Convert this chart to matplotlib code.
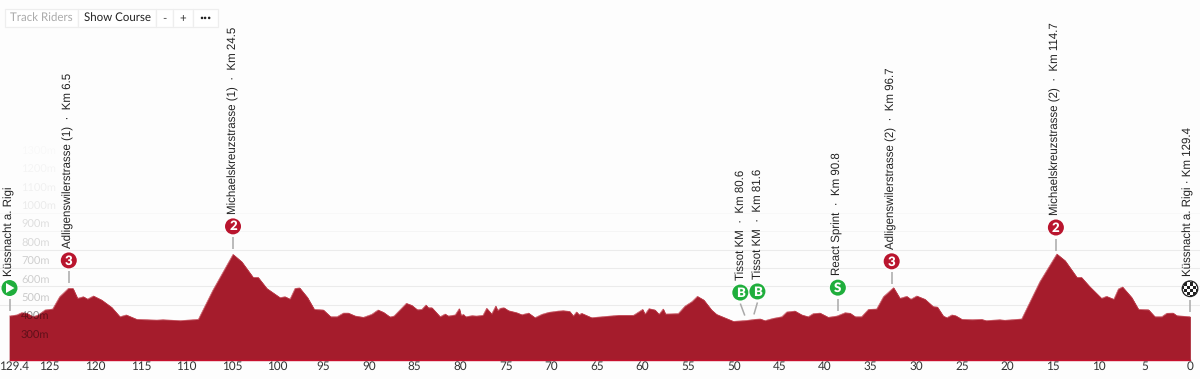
import numpy as np
import matplotlib
matplotlib.use("Agg")
import matplotlib.pyplot as plt
from matplotlib.patches import Circle, Rectangle, Polygon

plt.rcParams['text.hinting'] = 'none'

# km to go / elevation (m)
profile_km = [129.4, 128.6, 128.07, 127.5, 126.8, 126.25, 125.5, 124.67, 123.9, 122.95, 122.45, 121.95, 121.3,
              120.85, 120.2, 119.3, 118.2, 117.3, 116.6, 115.45, 113.25, 112.6, 110.7, 108.7, 107.1, 104.9, 103.95,
              102.7, 102.15, 101.2, 99.75, 99.2, 98.65, 98.1, 97.6, 96.75, 96.0, 95.0, 94.2, 93.5, 92.8, 92.25,
              91.5, 90.6, 89.7, 89.0, 88.4, 87.7, 87.25, 86.6, 85.9, 85.3, 84.7, 84.2, 83.75, 83.5, 83.1, 82.2,
              81.65, 81.3, 80.55, 80.1, 79.9, 79.65, 79.4, 78.7, 78.2, 77.5, 77.1, 76.55, 76.1, 75.9, 75.6, 75.2,
              74.7, 73.8, 73.25, 72.5, 71.8, 71.05, 70.3, 69.25, 68.7, 68.0, 67.6, 67.25, 66.95, 66.7, 65.6, 64.7,
              62.65, 61.0, 60.0, 59.75, 59.3, 58.65, 58.2, 57.75, 57.5, 56.1, 55.35, 54.6, 54.0, 53.3, 52.45, 51.9,
              50.05, 48.6, 47.7, 47.1, 46.6, 45.7, 44.75, 44.2, 43.3, 42.55, 41.85, 41.3, 40.55, 39.65, 38.7, 37.8,
              37.25, 36.7, 36.0, 35.25, 34.35, 33.6, 32.5, 31.8, 31.05, 30.6, 29.95, 29.05, 28.15, 27.7, 27.05,
              26.65, 26.1, 25.7, 25.0, 23.9, 22.85, 22.35, 20.85, 20.3, 18.45, 16.45, 14.6, 13.7, 12.4, 11.9, 11.0,
              9.7, 9.15, 8.35, 7.85, 7.4, 6.4, 5.65, 4.55, 3.85, 3.1, 2.55, 1.85, 1.45, 0.0]
profile_m = [439, 445, 457, 454, 435, 445, 472, 477, 544, 589, 589, 535, 544,
             531, 548, 526, 486, 435, 445, 421, 417, 419, 414, 421, 580, 774, 734,
             649, 649, 589, 539, 544, 531, 589, 592, 540, 475, 472, 435, 435, 455, 455,
             439, 432, 448, 472, 459, 434, 439, 472, 508, 497, 473, 475, 499, 484, 484, 435,
             450, 439, 445, 479, 441, 448, 435, 441, 439, 443, 481, 450, 493, 468, 481, 484,
             468, 457, 446, 455, 430, 448, 459, 466, 468, 464, 439, 461, 445, 454, 430, 434,
             443, 443, 475, 448, 479, 472, 448, 477, 450, 452, 493, 517, 546, 526, 472, 448,
             410, 415, 421, 423, 414, 426, 435, 461, 466, 445, 435, 452, 455, 432, 439, 457,
             454, 435, 435, 475, 477, 544, 593, 535, 546, 530, 548, 530, 490, 488, 439,
             430, 445, 441, 421, 419, 421, 414, 419, 416, 423, 626, 776, 740, 649, 649, 599,
             535, 546, 530, 586, 597, 540, 475, 473, 435, 435, 454, 455, 441, 435]

x_ticks = [125, 120, 115, 110, 105, 100, 95, 90, 85, 80, 75, 70, 65, 60, 55, 50, 45, 40, 35, 30, 25, 20, 15, 10, 5, 0]
y_ticks = [300, 400, 500, 600, 700, 800, 900, 1000, 1100, 1200, 1300]
y_alpha = [.42, .42, .2, .18, .18, .14, .12, .07, .05, .035, .02]
grid_levels = [500, 600, 700, 800, 900, 1000]
grid_alpha = [.07, .07, .07, .07, .03, .02]

total_km = 129.4
marker_names = ["Küssnacht a. Rigi", "Adligenswilerstrasse (1)  ·  Km 6.5", "Michaelskreuzstrasse (1)  ·  Km 24.5",
                "Tissot KM  ·  Km 80.6", "Tissot KM  ·  Km 81.6", "React Sprint  ·  Km 90.8",
                "Adligenswilerstrasse (2)  ·  Km 96.7", "Michaelskreuzstrasse (2)  ·  Km 114.7",
                "Küssnacht a. Rigi · Km 129.4"]
marker_km = [0, 6.5, 24.5, 80.6, 81.6, 90.8, 96.7, 114.7, 129.4]
marker_badge = ["start", "3", "2", "B", "B", "S", "3", "2", "finish"]
marker_shift = [0, 0, 0, -4.5, 3.5, 0, 0, 0, 0]

RED = "#a51c2c"
BADGE_RED = "#b9152e"
GREEN = "#1fae3c"

fig = plt.figure(figsize=(12, 3.79), dpi=100, facecolor="#fdfdfd")
ax = fig.add_axes([0, 0, 1, 1])
ax.axis("off")

# px per km / px per m of the reference
px_km = 1180.5 / total_km
px_m = 0.184
ax.set_xlim(total_km + 9.5 / px_km, -10 / px_km)
ax.set_ylim(200 - 19 / px_m, 200 + 360 / px_m)

for level, a in zip(grid_levels, grid_alpha):
    ax.axhline(level, color="black", alpha=a, lw=0.8, zorder=1)

ax.fill_between(profile_km, 200, profile_m, color=RED, lw=0.5, zorder=2)
ax.plot(profile_km, profile_m, color="#c23a48", lw=0.4, zorder=3)
ax.plot([total_km, 0], [200, 200], color="#c8102e", lw=1, zorder=3)

for km in x_ticks:
    ax.text(km, 200 - 6.5 / px_m, str(km), ha="center", va="center", fontsize=8.5, family="Lato", color="#333333")
ax.text(total_km - 5 / px_km, 200 - 6.5 / px_m, "129.4", ha="center", va="center", fontsize=8.5, family="Lato", color="#333333")

for level, a in zip(y_ticks, y_alpha):
    ax.text(total_km - 11.5 / px_km, level + 1 / px_m, f"{level}m", ha="left", va="bottom", fontsize=8,
            family="Lato", color="black", alpha=a, zorder=4)

# furniture in pixel coordinates, y pointing down
pix = fig.add_axes([0, 0, 1, 1], facecolor="none")
pix.axis("off")
pix.set_xlim(0, 1200)
pix.set_ylim(379, 0)

for name, km, badge, shift in zip(marker_names, marker_km, marker_badge, marker_shift):
    elev = np.interp(total_km - km, profile_km[::-1], profile_m[::-1])
    x = 9.5 + km * px_km
    y = 360 - (elev - 200) * px_m
    cx = x + shift
    cy = y - 28
    pix.plot([x, cx], [y - 5, cy + 11], color="#a9a9a9", lw=1.1, zorder=5, solid_capstyle="butt")
    pix.add_patch(Circle((cx, cy), 8.8, fc="white", ec="none", zorder=6))
    tx = cx
    if badge == "start":
        pix.add_patch(Circle((cx, cy), 8, fc=GREEN, ec="none", zorder=7))
        pix.add_patch(Polygon([(cx - 3.5, cy - 5), (cx - 3.5, cy + 5), (cx + 5, cy)], fc="white", ec="none", zorder=8))
    elif badge == "finish":
        c = Circle((cx, cy), 7.8, fc="white", ec="#222222", lw=0.9, zorder=7)
        pix.add_patch(c)
        for i in range(-3, 3):
            for j in range(-3, 3):
                if (i + j) % 2 == 0:
                    sq = Rectangle((cx + i * 3.2, cy + j * 3.2), 3.2, 3.2, fc="#222222", ec="none", zorder=8)
                    pix.add_patch(sq)
                    sq.set_clip_path(c)
        tx = cx - 1.5
    else:
        col = GREEN if badge in ("B", "S") else BADGE_RED
        pix.add_patch(Circle((cx, cy), 8, fc=col, ec="none", zorder=7))
        pix.text(cx, cy + 0.3, badge, ha="center", va="center", color="white", fontsize=9.5, fontweight="heavy",
                 family="Lato", zorder=8)
    pix.text(tx, cy - 12.5, name, rotation=90, ha="center", va="bottom", fontsize=8.3, family="Liberation Sans",
             color="#222222", zorder=6)

# toolbar
btn_edges = [5, 78, 156, 172.5, 192.5, 217.5]
btn_labels = ["Track Riders", "Show Course", "-", "+", "•••"]
btn_colors = ["#aaaaaa", "#222222", "#555555", "#333333", "#222222"]
btn_sizes = [8.3, 8.3, 8.3, 8.3, 5]
for i, label in enumerate(btn_labels):
    pix.add_patch(Rectangle((btn_edges[i], 8.5), btn_edges[i + 1] - btn_edges[i], 18.5, fc="white", ec="#eeeeee", lw=0.9, zorder=6))
    pix.text((btn_edges[i] + btn_edges[i + 1]) / 2, 18, label, ha="center", va="center", fontsize=btn_sizes[i],
             family="Lato", color=btn_colors[i], zorder=7)

fig.savefig("out.png", dpi=100, facecolor=fig.get_facecolor())
